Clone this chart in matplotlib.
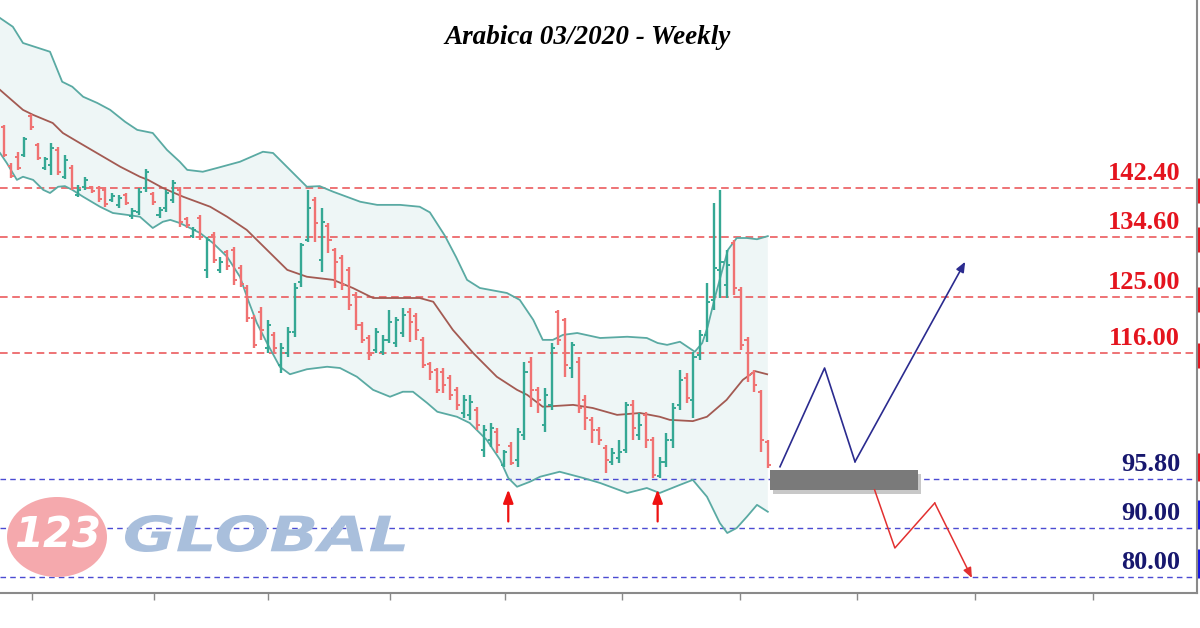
import matplotlib
matplotlib.use("Agg")
import matplotlib.pyplot as plt
from matplotlib.patches import Ellipse, Rectangle, PathPatch
from matplotlib.transforms import blended_transform_factory, Affine2D, IdentityTransform
from matplotlib.textpath import TextPath
from matplotlib.font_manager import FontProperties

# weekly OHLC, Arabica coffee (US cents/lb)
opens = [152.2, 145.9, 147.4, 147.7, 153.9, 149.3, 145.6, 146.1, 148.5, 144.2,
         145.6, 141.3, 142.6, 142.6, 142.4, 142.1, 140.5, 139.7, 141.3, 137.9,
         138.6, 142.4, 141.5, 138.1, 139.2, 140.5, 142.1, 137.5, 134.7, 137.6,
         129.3, 134.9, 129.3, 132.2, 132.5, 129.6, 126.4, 121.6, 122.6, 116.8,
         118.9, 114.1, 116.0, 119.4, 127.4, 134.1, 140.5, 130.9, 136.3, 132.5,
         131.2, 129.3, 125.3, 120.5, 118.4, 116.5, 116.2, 118.1, 117.6, 119.2,
         122.6, 121.9, 118.1, 114.2, 113.3, 113.0, 112.0, 110.1, 106.4, 106.1,
         106.9, 100.5, 102.1, 103.4, 98.1, 101.1, 98.9, 102.9, 114.6, 110.1,
         104.5, 107.7, 122.6, 121.3, 113.6, 114.6, 108.5, 105.3, 103.7, 100.8,
         98.6, 99.2, 100.5, 107.7, 102.9, 106.1, 102.1, 96.3, 98.6, 102.1,
         107.7, 112.0, 108.5, 115.7, 118.9, 124.5, 129.3, 126.9, 133.6, 126.1,
         118.1, 112.8, 109.8, 101.8]
highs = [152.5, 146.4, 148.2, 150.6, 154.2, 149.6, 147.4, 149.6, 149.0, 147.7,
         146.1, 142.9, 144.2, 142.7, 142.7, 142.6, 141.6, 141.3, 141.6, 139.2,
         142.4, 145.4, 141.8, 139.4, 142.1, 143.7, 142.6, 137.8, 136.2, 138.1,
         134.6, 135.4, 131.4, 132.5, 133.0, 130.1, 126.9, 122.1, 123.4, 121.3,
         119.4, 117.6, 120.2, 127.2, 133.6, 142.1, 141.0, 139.2, 136.8, 132.8,
         131.7, 129.8, 125.8, 121.0, 118.9, 120.0, 118.9, 122.9, 121.8, 123.2,
         123.2, 122.4, 118.6, 114.6, 113.6, 113.6, 112.5, 110.6, 109.3, 109.3,
         107.4, 104.5, 104.8, 104.0, 100.5, 101.8, 104.0, 114.6, 115.4, 110.6,
         110.4, 117.6, 122.9, 121.6, 117.8, 115.4, 109.3, 105.8, 104.2, 101.3,
         100.8, 102.1, 108.2, 108.5, 106.4, 106.6, 102.6, 99.4, 103.2, 108.0,
         113.3, 112.8, 116.2, 119.7, 127.2, 140.0, 142.1, 132.5, 134.1, 126.6,
         118.6, 113.3, 110.1, 102.1]
lows = [147.4, 144.0, 145.3, 147.4, 151.7, 146.9, 145.3, 144.5, 144.5, 143.8,
        142.1, 141.0, 142.1, 141.6, 140.2, 139.4, 140.2, 139.2, 139.7, 137.4,
        138.1, 141.8, 139.7, 137.6, 138.6, 140.0, 136.2, 136.0, 134.4, 134.1,
        128.0, 130.4, 128.8, 129.3, 126.9, 126.6, 121.0, 116.8, 118.1, 116.0,
        116.2, 112.8, 115.4, 118.6, 126.6, 133.8, 133.8, 129.0, 132.0, 126.4,
        126.1, 122.9, 119.7, 117.6, 114.9, 116.0, 115.7, 117.6, 117.0, 118.6,
        117.8, 118.1, 113.6, 111.7, 109.6, 109.6, 108.5, 106.9, 105.6, 105.3,
        103.7, 99.4, 101.0, 100.0, 97.8, 98.1, 97.8, 102.1, 107.4, 106.4,
        103.4, 106.9, 117.3, 112.2, 112.0, 106.4, 103.7, 101.6, 101.3, 96.8,
        98.1, 98.4, 100.0, 102.1, 102.1, 100.8, 96.0, 96.0, 97.8, 100.8,
        106.9, 108.0, 105.6, 114.9, 117.8, 122.9, 124.8, 124.8, 125.3, 116.5,
        111.4, 109.8, 100.2, 97.6]
closes = [147.7, 144.3, 145.6, 150.2, 152.2, 147.2, 147.0, 148.8, 145.0, 146.9,
          142.4, 142.1, 143.7, 141.9, 140.6, 139.8, 141.1, 140.8, 140.0, 138.7,
          141.8, 145.0, 140.2, 138.9, 141.6, 143.2, 137.0, 136.5, 135.7, 134.6,
          134.1, 130.9, 130.6, 129.9, 127.7, 127.0, 121.6, 117.3, 119.7, 120.5,
          116.8, 116.8, 119.4, 126.4, 133.3, 139.2, 136.8, 137.0, 134.1, 130.6,
          126.9, 123.7, 120.5, 118.1, 115.7, 119.4, 118.1, 121.0, 121.3, 122.1,
          121.0, 119.7, 114.1, 113.0, 110.1, 110.9, 109.3, 107.7, 108.5, 108.2,
          104.5, 103.7, 104.0, 101.3, 100.2, 98.4, 103.4, 113.0, 110.1, 108.5,
          109.3, 116.8, 118.1, 114.1, 117.3, 107.2, 105.6, 103.7, 102.1, 98.9,
          100.0, 100.2, 107.7, 104.0, 104.5, 102.1, 96.5, 98.6, 102.1, 107.2,
          111.7, 108.8, 115.4, 118.9, 124.2, 129.6, 130.6, 130.1, 126.4, 117.3,
          112.5, 110.9, 102.1, 98.1]

# Bollinger bands (week index, price) sampled along the drawn curves
upper_x = [-0.6, 1.3, 2.8, 6.8, 8.6, 10.1, 11.7, 13.8, 15.7, 17.9, 19.7, 22.0,
           24.1, 26.0, 27.1, 29.4, 31.5, 34.9, 38.3, 39.8, 42.3, 44.8, 46.7,
           48.7, 52.7, 55.2, 58.6, 61.5, 63.0, 65.2, 66.9, 68.5, 70.4, 74.4,
           76.3, 78.3, 79.7, 81.2, 82.7, 84.8, 88.2, 92.2, 95.1, 96.7, 98.1,
           100.0, 102.2, 103.3, 104.1, 105.2, 106.2, 107.1, 108.4, 109.9,
           111.4, 113.0]
upper_y = [169.6, 168.2, 165.6, 164.2, 159.4, 158.6, 157.0, 156.0, 154.9,
           153.0, 151.7, 151.2, 148.5, 146.6, 145.3, 145.0, 145.6, 146.6,
           148.2, 148.0, 145.3, 142.6, 142.7, 141.8, 140.2, 139.7, 139.7,
           139.4, 138.5, 134.8, 131.3, 127.7, 126.4, 125.6, 124.5, 121.3,
           118.1, 118.1, 118.9, 119.2, 118.4, 118.6, 118.4, 117.6, 117.3,
           117.8, 116.2, 117.6, 120.2, 125.0, 129.0, 132.5, 134.4, 134.4,
           134.2, 134.7]
mid_x = [-0.6, 2.8, 4.3, 7.2, 8.7, 11.2, 14.2, 17.2, 20.1, 21.3, 23.5, 26.5,
         30.5, 33.0, 35.9, 38.9, 41.9, 44.8, 48.7, 51.6, 54.6, 58.6, 61.5,
         63.5, 66.4, 69.4, 72.9, 75.9, 77.4, 79.7, 84.2, 87.1, 90.7, 94.1,
         97.0, 98.5, 101.9, 104.0, 106.9, 109.3, 111.1, 112.9]
mid_y = [158.1, 154.9, 154.1, 152.8, 151.2, 149.6, 147.7, 145.8, 144.2, 143.7,
         142.4, 141.0, 139.4, 137.8, 135.7, 132.5, 129.3, 128.2, 127.7, 126.4,
         124.8, 124.8, 124.8, 124.2, 119.7, 116.0, 112.2, 110.1, 109.3, 107.4,
         107.7, 107.2, 106.1, 106.4, 105.8, 105.3, 105.1, 105.8, 108.5, 111.7,
         113.1, 112.6]
lower_x = [-0.6, 0.4, 1.9, 2.8, 4.3, 5.8, 6.8, 8.0, 9.0, 10.1, 11.7, 14.2,
           16.1, 18.2, 20.1, 22.0, 23.5, 24.6, 26.0, 29.0, 30.9, 33.0, 34.9,
           36.1, 37.4, 38.9, 40.8, 42.3, 44.8, 47.8, 49.7, 52.2, 54.6, 57.1,
           59.0, 60.5, 62.6, 64.1, 67.0, 68.9, 71.4, 73.4, 74.6, 75.9, 77.8,
           79.3, 82.2, 85.7, 88.2, 92.2, 95.1, 97.0, 100.0, 101.9, 104.0,
           105.9, 107.0, 108.4, 109.9, 111.4, 113.0]
lower_y = [148.0, 146.4, 143.7, 144.2, 143.7, 142.1, 141.6, 142.6, 142.7,
           142.1, 141.0, 139.4, 138.4, 138.1, 137.8, 136.0, 137.0, 137.3,
           136.8, 135.2, 133.6, 131.4, 128.2, 124.5, 120.8, 117.6, 113.8,
           112.6, 113.4, 113.8, 113.6, 112.2, 110.1, 109.0, 109.8, 109.8,
           108.0, 106.6, 105.8, 104.8, 102.1, 98.9, 96.0, 94.6, 95.4, 96.2,
           97.0, 96.0, 95.2, 93.6, 94.4, 93.6, 94.9, 95.7, 93.0, 88.8, 87.2,
           88.0, 89.8, 91.7, 90.6]

# support / resistance levels (label, drawn price)
res_labels = ["142.40", "134.60", "125.00", "116.00"]
res_levels = [142.4, 134.6, 125.0, 116.0]
sup_labels = ["95.80", "90.00", "80.00"]
sup_levels = [95.8, 88.0, 80.2]

# scenario sketch to the right of the last bar
up_path_x = [114.8, 121.4, 125.9, 142.2]
up_path_y = [97.8, 113.6, 98.6, 130.6]
down_path_x = [128.8, 131.8, 137.7, 143.2]
down_path_y = [94.1, 84.8, 92.0, 80.0]
pivot_weeks = [74.6, 96.7]
zone_x = [113.3, 135.2]
zone_y = [94.1, 97.3]

RED = "#e4141e"
NAVY = "#17176e"
BAR_RED = "#f07272"
BAR_GREEN = "#35a894"

fig = plt.figure(figsize=(12, 6.28), dpi=100)
ax = fig.add_axes([0, 35 / 628, 1197 / 1200, 593 / 628])
ax.set_xlim(-0.6, 176.5)
ax.set_ylim(77.6, 172.48)

# band fill + lines
ax.fill(upper_x + lower_x[::-1], upper_y + lower_y[::-1], color="#eef6f6", lw=0, zorder=0)
ax.plot(upper_x, upper_y, color="#5aaaa3", lw=1.3, zorder=2)
ax.plot(lower_x, lower_y, color="#5aaaa3", lw=1.3, zorder=2)
ax.plot(mid_x, mid_y, color="#a35a52", lw=1.3, zorder=2)

# OHLC bars
idx = list(range(len(opens)))
cols = [BAR_GREEN if c >= o else BAR_RED for o, c in zip(opens, closes)]
ax.vlines(idx, lows, highs, colors=cols, lw=1.7, zorder=3)
ax.hlines(opens, [i - 0.45 for i in idx], idx, colors=cols, lw=1.4, zorder=3)
ax.hlines(closes, idx, [i + 0.45 for i in idx], colors=cols, lw=1.4, zorder=3)

# levels
trans = blended_transform_factory(ax.transAxes, ax.transData)
edge = 1.0 + 1.8 / 1197
for lab, lv in zip(res_labels, res_levels):
    ax.axhline(lv, color="#ea4d50", lw=1.1, ls=(0, (5, 3)), zorder=1)
    ax.text(0.986, lv + 0.5, lab, transform=trans, ha="right", va="bottom",
            color=RED, fontsize=19, fontweight="bold", family="Liberation Serif")
    ax.vlines(edge, lv - 2.4, lv + 1.6, transform=trans, colors=RED, lw=2.4, clip_on=False)
for i, (lab, lv) in enumerate(zip(sup_labels, sup_levels)):
    ax.axhline(lv, color="#4b4bd2", lw=1.0, ls=(0, (4, 3)), zorder=1)
    ax.text(0.986, lv + 0.5, lab, transform=trans, ha="right", va="bottom",
            color=NAVY, fontsize=19, fontweight="bold", family="Liberation Serif")
    mark = RED if i == 0 else "#1414e6"
    ax.vlines(edge, lv - 0.2, lv + 4.2 if i == 0 else lv + 4.5, transform=trans,
              colors=mark, lw=2.4, clip_on=False)

# pivot arrows
for w in pivot_weeks:
    ax.annotate("", xy=(w, 94.6), xytext=(w, 88.6),
                arrowprops=dict(arrowstyle="-|>,head_width=0.3,head_length=0.8",
                                color="#ee1111", lw=1.6), zorder=5)

# decision zone box with shadow
ax.add_patch(Rectangle((zone_x[0] + 0.4, zone_y[0] - 0.6), zone_x[1] - zone_x[0],
                       zone_y[1] - zone_y[0], facecolor="#c8c8c8", lw=0, zorder=4))
ax.add_patch(Rectangle((zone_x[0], zone_y[0]), zone_x[1] - zone_x[0],
                       zone_y[1] - zone_y[0], facecolor="#7a7a7a", lw=0, zorder=5))

# scenario paths
ax.plot(up_path_x[:-1], up_path_y[:-1], color="#2b2b8f", lw=1.2, zorder=5)
ax.annotate("", xy=(up_path_x[-1], up_path_y[-1]), xytext=(up_path_x[-2], up_path_y[-2]),
            arrowprops=dict(arrowstyle="-|>,head_width=0.25,head_length=0.6",
                            color="#2b2b8f", lw=1.2, shrinkA=0, shrinkB=0), zorder=5)
ax.plot(down_path_x[:-1], down_path_y[:-1], color="#e23030", lw=1.1, zorder=5)
ax.annotate("", xy=(down_path_x[-1], down_path_y[-1]), xytext=(down_path_x[-2], down_path_y[-2]),
            arrowprops=dict(arrowstyle="-|>,head_width=0.25,head_length=0.6",
                            color="#e23030", lw=1.1, shrinkA=0, shrinkB=0), zorder=5)

# axes styling
for s in ["left", "top"]:
    ax.spines[s].set_visible(False)
for s in ["bottom", "right"]:
    ax.spines[s].set_color("#8a8a8a")
    ax.spines[s].set_linewidth(1.5)
ax.set_xticks([4.1, 22.2, 39.1, 57.1, 74.1, 91.4, 108.9, 126.2, 143.6, 161.1])
ax.set_xticklabels([])
ax.set_yticks([])
ax.tick_params(axis="x", direction="out", length=5, width=1, color="#8a8a8a")

# title
ax.text(0.491, 0.936, "Arabica 03/2020 - Weekly", transform=ax.transAxes,
        ha="center", va="center", fontsize=19.5, fontweight="bold", style="italic",
        family="Liberation Serif", color="black")

# watermark logo
fig.add_artist(Ellipse((57 / 1200, 1 - 537 / 628), 100 / 1200, 80 / 628,
                       transform=fig.transFigure, facecolor="#f5a9ad", lw=0, zorder=0.5))
fig.text(58 / 1200, 1 - 535 / 628, "123", ha="center", va="center", color="white",
         fontsize=30, fontweight="bold", style="italic", family="DejaVu Sans")

# "GLOBAL" stretched to the logo's box (125..405 px wide, 37 px tall caps)
logo_font = FontProperties(family="DejaVu Sans", weight="heavy", style="italic")
tp = TextPath((0, 0), "GLOBAL", size=1, prop=logo_font)
bb = tp.get_extents()
sx = 280 / bb.width
sy = 37 / bb.height
tr = Affine2D().translate(-bb.x0, -bb.y0).scale(sx, sy).translate(125, 628 - 552)
fig.add_artist(PathPatch(tp, transform=tr + IdentityTransform(), facecolor="#a9bfdc",
                         lw=0, zorder=0.6))

fig.savefig("out.png", dpi=100)
